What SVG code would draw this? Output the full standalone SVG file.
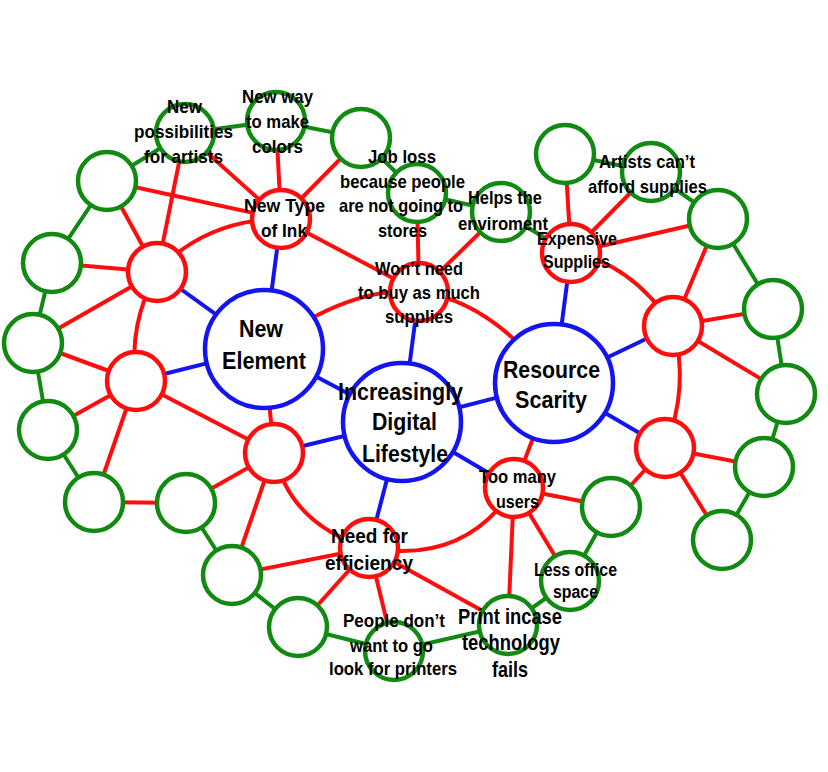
<svg xmlns="http://www.w3.org/2000/svg" width="828" height="772" viewBox="0 0 828 772">
<style>
.r{stroke:#ff0d0d;stroke-width:4;fill:none}
.g{stroke:#118a11;stroke-width:4;fill:none}
.b{stroke:#1414f0;stroke-width:4;fill:none}
.nr{stroke:#ff0d0d;stroke-width:4.5;fill:#fff}
.ng{stroke:#118a11;stroke-width:4.5;fill:#fff}
.nb{stroke:#1414f0;stroke-width:4.5;fill:#fff}
text{font-family:"Liberation Sans",Arial,sans-serif;font-weight:bold;fill:#000}
.s18{font-size:18px}.s19{font-size:19px}.s21{font-size:21px}.s22{font-size:22px}.s24{font-size:24px}
</style>
<rect width="828" height="772" fill="#fff"/>
<g id="connectors">
<line class="r" x1="107" y1="181" x2="281" y2="219"/>
<line class="r" x1="185" y1="133" x2="281" y2="219"/>
<line class="r" x1="276" y1="121" x2="281" y2="219"/>
<line class="r" x1="361" y1="138" x2="281" y2="219"/>
<line class="r" x1="281" y1="219" x2="419" y2="292"/>
<line class="r" x1="157" y1="272" x2="107" y2="181"/>
<line class="r" x1="157" y1="272" x2="185" y2="133"/>
<line class="r" x1="157" y1="272" x2="52" y2="263"/>
<line class="r" x1="157" y1="272" x2="33" y2="343"/>
<line class="r" x1="136" y1="381" x2="33" y2="343"/>
<line class="r" x1="136" y1="381" x2="48" y2="430"/>
<line class="r" x1="136" y1="381" x2="94" y2="502"/>
<line class="r" x1="136" y1="381" x2="274" y2="453"/>
<line class="r" x1="274" y1="453" x2="186" y2="503"/>
<line class="r" x1="274" y1="453" x2="232" y2="575"/>
<line class="r" x1="94" y1="502" x2="186" y2="503"/>
<line class="r" x1="274" y1="453" x2="264" y2="349"/>
<line class="r" x1="369" y1="548" x2="232" y2="575"/>
<line class="r" x1="369" y1="548" x2="298" y2="627"/>
<line class="r" x1="369" y1="548" x2="394" y2="651"/>
<line class="r" x1="369" y1="548" x2="508" y2="625"/>
<line class="r" x1="514" y1="488" x2="508" y2="625"/>
<line class="r" x1="514" y1="488" x2="570" y2="581"/>
<line class="r" x1="514" y1="488" x2="611" y2="507"/>
<line class="r" x1="514" y1="488" x2="554" y2="383"/>
<line class="r" x1="611" y1="507" x2="665" y2="448"/>
<line class="r" x1="665" y1="448" x2="722" y2="540"/>
<line class="r" x1="665" y1="448" x2="764" y2="467"/>
<line class="r" x1="673" y1="326" x2="786" y2="394"/>
<line class="r" x1="673" y1="326" x2="773" y2="309"/>
<line class="r" x1="673" y1="326" x2="718" y2="219"/>
<line class="r" x1="571" y1="253" x2="718" y2="219"/>
<line class="r" x1="571" y1="253" x2="651" y2="172"/>
<line class="r" x1="571" y1="253" x2="565" y2="154"/>
<line class="r" x1="417" y1="193" x2="419" y2="292"/>
<line class="r" x1="501" y1="212" x2="419" y2="292"/>
<path class="r" d="M281,219 Q205,220 157,272"/>
<path class="r" d="M157,272 Q128,325 136,381"/>
<path class="r" d="M264,349 Q350,285 419,292"/>
<path class="r" d="M419,292 Q490,300 554,383"/>
<path class="r" d="M571,253 Q630,262 673,326"/>
<path class="r" d="M673,326 Q690,387 665,448"/>
<path class="r" d="M514,488 Q465,565 369,548"/>
<path class="r" d="M274,453 Q290,525 369,548"/>
<line class="b" x1="281" y1="219" x2="264" y2="349"/>
<line class="b" x1="157" y1="272" x2="264" y2="349"/>
<line class="b" x1="136" y1="381" x2="264" y2="349"/>
<line class="b" x1="264" y1="349" x2="402" y2="422"/>
<line class="b" x1="419" y1="292" x2="402" y2="422"/>
<line class="b" x1="274" y1="453" x2="402" y2="422"/>
<line class="b" x1="402" y1="422" x2="369" y2="548"/>
<line class="b" x1="402" y1="422" x2="514" y2="488"/>
<line class="b" x1="402" y1="422" x2="554" y2="383"/>
<line class="b" x1="571" y1="253" x2="554" y2="383"/>
<line class="b" x1="554" y1="383" x2="673" y2="326"/>
<line class="b" x1="554" y1="383" x2="665" y2="448"/>
<line class="g" x1="107" y1="181" x2="185" y2="133"/>
<line class="g" x1="185" y1="133" x2="276" y2="121"/>
<line class="g" x1="276" y1="121" x2="361" y2="138"/>
<line class="g" x1="361" y1="138" x2="417" y2="193"/>
<line class="g" x1="417" y1="193" x2="501" y2="212"/>
<line class="g" x1="501" y1="212" x2="571" y2="253"/>
<line class="g" x1="565" y1="154" x2="651" y2="172"/>
<line class="g" x1="651" y1="172" x2="718" y2="219"/>
<line class="g" x1="718" y1="219" x2="773" y2="309"/>
<line class="g" x1="773" y1="309" x2="786" y2="394"/>
<line class="g" x1="786" y1="394" x2="764" y2="467"/>
<line class="g" x1="764" y1="467" x2="722" y2="540"/>
<line class="g" x1="611" y1="507" x2="570" y2="581"/>
<line class="g" x1="570" y1="581" x2="508" y2="625"/>
<line class="g" x1="508" y1="625" x2="394" y2="651"/>
<line class="g" x1="394" y1="651" x2="298" y2="627"/>
<line class="g" x1="298" y1="627" x2="232" y2="575"/>
<line class="g" x1="232" y1="575" x2="186" y2="503"/>
<line class="g" x1="48" y1="430" x2="94" y2="502"/>
<line class="g" x1="33" y1="343" x2="48" y2="430"/>
<line class="g" x1="52" y1="263" x2="33" y2="343"/>
<line class="g" x1="107" y1="181" x2="52" y2="263"/>
</g>
<g id="g-left5"><circle class="ng" cx="107" cy="181" r="29"/></g>
<g id="g-left4"><circle class="ng" cx="52" cy="263" r="29"/></g>
<g id="g-left3"><circle class="ng" cx="33" cy="343" r="29"/></g>
<g id="g-left2"><circle class="ng" cx="48" cy="430" r="29"/></g>
<g id="g-left1"><circle class="ng" cx="94" cy="502" r="29"/></g>
<g id="g-bottom3"><circle class="ng" cx="186" cy="503" r="29"/></g>
<g id="g-bottom2"><circle class="ng" cx="232" cy="575" r="29"/></g>
<g id="g-bottom1"><circle class="ng" cx="298" cy="627" r="29"/></g>
<g id="g-top"><circle class="ng" cx="361" cy="138" r="29"/></g>
<g id="g-topright"><circle class="ng" cx="565" cy="154" r="29"/></g>
<g id="g-right1"><circle class="ng" cx="718" cy="219" r="29"/></g>
<g id="g-right2"><circle class="ng" cx="773" cy="309" r="29"/></g>
<g id="g-right3"><circle class="ng" cx="786" cy="394" r="29"/></g>
<g id="g-right4"><circle class="ng" cx="764" cy="467" r="29"/></g>
<g id="g-right5"><circle class="ng" cx="722" cy="540" r="29"/></g>
<g id="g-users"><circle class="ng" cx="611" cy="507" r="29"/></g>
<g id="r-topleft"><circle class="nr" cx="157" cy="272" r="29"/></g>
<g id="r-midleft"><circle class="nr" cx="136" cy="381" r="29"/></g>
<g id="r-lowleft"><circle class="nr" cx="274" cy="453" r="29"/></g>
<g id="r-rightup"><circle class="nr" cx="673" cy="326" r="29"/></g>
<g id="r-rightlow"><circle class="nr" cx="665" cy="448" r="29"/></g>
<g id="new-possibilities"><circle class="ng" cx="185" cy="133" r="29"/>
<text class="s19" x="167" y="113" textLength="35" lengthAdjust="spacingAndGlyphs">New</text>
<text class="s19" x="134" y="138" textLength="99" lengthAdjust="spacingAndGlyphs">possibilities</text>
<text class="s19" x="144" y="163" textLength="79" lengthAdjust="spacingAndGlyphs">for artists</text></g>
<g id="new-way"><circle class="ng" cx="276" cy="121" r="29"/>
<text class="s19" x="242" y="103" textLength="71" lengthAdjust="spacingAndGlyphs">New way</text>
<text class="s19" x="246" y="128" textLength="63" lengthAdjust="spacingAndGlyphs">to make</text>
<text class="s19" x="252" y="153" textLength="51" lengthAdjust="spacingAndGlyphs">colors</text></g>
<g id="job-loss"><circle class="ng" cx="417" cy="193" r="29"/>
<text class="s19" x="368" y="163" textLength="68" lengthAdjust="spacingAndGlyphs">Job loss</text>
<text class="s19" x="340" y="188" textLength="125" lengthAdjust="spacingAndGlyphs">because people</text>
<text class="s19" x="339" y="212" textLength="124" lengthAdjust="spacingAndGlyphs">are not going to</text>
<text class="s19" x="378" y="237" textLength="49" lengthAdjust="spacingAndGlyphs">stores</text></g>
<g id="helps"><circle class="ng" cx="501" cy="212" r="29"/>
<text class="s19" x="468" y="204" textLength="74" lengthAdjust="spacingAndGlyphs">Helps the</text>
<text class="s19" x="458" y="230" textLength="90" lengthAdjust="spacingAndGlyphs">enviroment</text></g>
<g id="artists"><circle class="ng" cx="651" cy="172" r="29"/>
<text class="s19" x="599" y="168" textLength="96" lengthAdjust="spacingAndGlyphs">Artists can’t</text>
<text class="s19" x="588" y="193" textLength="119" lengthAdjust="spacingAndGlyphs">afford supplies</text></g>
<g id="less-office"><circle class="ng" cx="570" cy="581" r="29"/>
<text class="s18" x="534" y="576" textLength="83" lengthAdjust="spacingAndGlyphs">Less office</text>
<text class="s18" x="553" y="598" textLength="45" lengthAdjust="spacingAndGlyphs">space</text></g>
<g id="people"><circle class="ng" cx="394" cy="651" r="29"/>
<text class="s18" x="343" y="627" textLength="102" lengthAdjust="spacingAndGlyphs">People don’t</text>
<text class="s18" x="350" y="652" textLength="83" lengthAdjust="spacingAndGlyphs">want to go</text>
<text class="s18" x="329" y="675" textLength="128" lengthAdjust="spacingAndGlyphs">look for printers</text></g>
<g id="print"><circle class="ng" cx="508" cy="625" r="29"/>
<text class="s22" x="458" y="624" textLength="104" lengthAdjust="spacingAndGlyphs">Print incase</text>
<text class="s22" x="462" y="650" textLength="98" lengthAdjust="spacingAndGlyphs">technology</text>
<text class="s22" x="492" y="677" textLength="36" lengthAdjust="spacingAndGlyphs">fails</text></g>
<g id="new-type-ink"><circle class="nr" cx="281" cy="219" r="29"/>
<text class="s19" x="244" y="212" textLength="81" lengthAdjust="spacingAndGlyphs">New Type</text>
<text class="s19" x="261" y="237" textLength="46" lengthAdjust="spacingAndGlyphs">of Ink</text></g>
<g id="wont-need"><circle class="nr" cx="419" cy="292" r="29"/>
<text class="s19" x="375" y="275" textLength="88" lengthAdjust="spacingAndGlyphs">Won’t need</text>
<text class="s19" x="358" y="299" textLength="122" lengthAdjust="spacingAndGlyphs">to buy as much</text>
<text class="s19" x="385" y="323" textLength="68" lengthAdjust="spacingAndGlyphs">supplies</text></g>
<g id="expensive"><circle class="nr" cx="571" cy="253" r="29"/>
<text class="s19" x="537" y="245" textLength="80" lengthAdjust="spacingAndGlyphs">Expensive</text>
<text class="s19" x="543" y="268" textLength="67" lengthAdjust="spacingAndGlyphs">Supplies</text></g>
<g id="too-many"><circle class="nr" cx="514" cy="488" r="29"/>
<text class="s19" x="479" y="483" textLength="77" lengthAdjust="spacingAndGlyphs">Too many</text>
<text class="s19" x="496" y="508" textLength="43" lengthAdjust="spacingAndGlyphs">users</text></g>
<g id="need"><circle class="nr" cx="369" cy="548" r="29"/>
<text class="s21" x="331" y="543" textLength="77" lengthAdjust="spacingAndGlyphs">Need for</text>
<text class="s21" x="325" y="570" textLength="88" lengthAdjust="spacingAndGlyphs">efficiency</text></g>
<g id="new-element"><circle class="nb" cx="264" cy="349" r="59"/>
<text class="s24" x="239" y="337" textLength="44" lengthAdjust="spacingAndGlyphs">New</text>
<text class="s24" x="222" y="369" textLength="84" lengthAdjust="spacingAndGlyphs">Element</text></g>
<g id="digital"><circle class="nb" cx="402" cy="422" r="59"/>
<text class="s24" x="338" y="400" textLength="125" lengthAdjust="spacingAndGlyphs">Increasingly</text>
<text class="s24" x="372" y="430" textLength="65" lengthAdjust="spacingAndGlyphs">Digital</text>
<text class="s24" x="362" y="462" textLength="86" lengthAdjust="spacingAndGlyphs">Lifestyle</text></g>
<g id="resource"><circle class="nb" cx="554" cy="383" r="59"/>
<text class="s24" x="503" y="378" textLength="97" lengthAdjust="spacingAndGlyphs">Resource</text>
<text class="s24" x="515" y="408" textLength="72" lengthAdjust="spacingAndGlyphs">Scarity</text></g>
</svg>
